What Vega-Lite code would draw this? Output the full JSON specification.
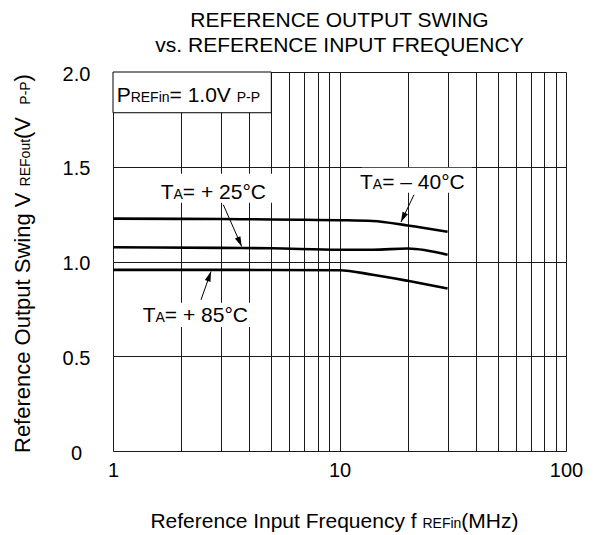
{
  "$schema": "https://vega.github.io/schema/vega-lite/v6.json",
  "width": 453,
  "height": 379,
  "autosize": {"type": "none"},
  "padding": {"left": 113, "top": 72, "right": 29, "bottom": 84},
  "background": "white",
  "config": {
    "font": "Liberation Sans",
    "view": {"stroke": null},
    "text": {"font": "Liberation Sans", "color": "black"}
  },
  "title": {
    "text": ["REFERENCE OUTPUT SWING", "vs. REFERENCE INPUT FREQUENCY"],
    "font": "Liberation Sans",
    "fontSize": 21,
    "fontWeight": "normal",
    "color": "black",
    "anchor": "middle",
    "frame": "group",
    "lineHeight": 25,
    "offset": 8
  },
  "datasets": {
    "curves": [
      {"series": "-40", "f": 1, "v": 1.226},
      {"series": "-40", "f": 2, "v": 1.225},
      {"series": "-40", "f": 3, "v": 1.224},
      {"series": "-40", "f": 5, "v": 1.222},
      {"series": "-40", "f": 7, "v": 1.22},
      {"series": "-40", "f": 10, "v": 1.218},
      {"series": "-40", "f": 14, "v": 1.214},
      {"series": "-40", "f": 20, "v": 1.19},
      {"series": "-40", "f": 30, "v": 1.157},
      {"series": "25", "f": 1, "v": 1.075},
      {"series": "25", "f": 3, "v": 1.072},
      {"series": "25", "f": 5, "v": 1.07},
      {"series": "25", "f": 10, "v": 1.062},
      {"series": "25", "f": 14, "v": 1.062},
      {"series": "25", "f": 20, "v": 1.069},
      {"series": "25", "f": 30, "v": 1.036},
      {"series": "85", "f": 1, "v": 0.956},
      {"series": "85", "f": 3, "v": 0.956},
      {"series": "85", "f": 5, "v": 0.955},
      {"series": "85", "f": 10, "v": 0.954},
      {"series": "85", "f": 14, "v": 0.93},
      {"series": "85", "f": 20, "v": 0.898},
      {"series": "85", "f": 30, "v": 0.858}
    ],
    "boxes": [
      {"f": 1.58, "f2": 5.09, "v": 1.31, "v2": 1.463},
      {"f": 12.57, "f2": 38.5, "v": 1.363, "v2": 1.495},
      {"f": 1.329, "f2": 4.236, "v": 0.655, "v2": 0.782}
    ],
    "arrows": [
      {"id": "a25", "f": 3.069, "v": 1.2995, "f2": 3.7, "v2": 1.0792},
      {"id": "a40", "f": 21.33, "v": 1.3524, "f2": 18.68, "v2": 1.2081},
      {"id": "a85", "f": 2.446, "v": 0.7977, "f2": 2.708, "v2": 0.9472}
    ],
    "texts": [
      {"grp": "ta", "f": 1.624, "v": 1.3296, "a": "T", "b": "A", "c": " = + 25°C"},
      {"grp": "ta", "f": 12.32, "v": 1.3825, "a": "T", "b": "A", "c": " = – 40°C"},
      {"grp": "ta", "f": 1.352, "v": 0.683, "a": "T", "b": "A", "c": " = + 85°C"},
      {"grp": "leg", "f": 1.038, "v": 1.8437, "a": "P", "b": "REFin", "c": " = 1.0V", "d": "P-P"},
      {"grp": "xt", "f": 1.463, "v": -0.4068, "a": "Reference Input Frequency  f", "b": "REFin", "c": "  (MHz)"},
      {"grp": "yt", "f": 0.4302, "v": -0.0106, "a": "Reference Output Swing  V", "b": "REFout", "c": "  (V", "d": "P-P", "e": ")"}
    ]
  },
  "encoding": {
    "x": {
      "field": "f",
      "type": "quantitative",
      "scale": {"type": "log", "domain": [1, 100], "nice": false},
      "axis": {
        "values": [1, 2, 3, 4, 5, 6, 7, 8, 9, 10, 20, 30, 40, 50, 60, 70, 80, 90, 100],
        "labelExpr": "(datum.value == 1 || datum.value == 10 || datum.value == 100) ? format(datum.value, 'd') : ''",
        "grid": true,
        "gridColor": "#1a1a1a",
        "gridWidth": 1,
        "ticks": false,
        "tickSize": 0,
        "domain": false,
        "labelFont": "Liberation Sans",
        "labelFontSize": 20,
        "labelColor": "black",
        "labelPadding": 9,
        "labelFlush": false,
        "labelBound": false,
        "labelOverlap": false,
        "title": null
      }
    },
    "y": {
      "field": "v",
      "type": "quantitative",
      "scale": {"domain": [0, 2], "nice": false, "zero": false},
      "axis": {
        "values": [0, 0.5, 1, 1.5, 2],
        "labelExpr": "datum.value == 0 ? '0' : format(datum.value, '.1f')",
        "grid": true,
        "gridColor": "#1a1a1a",
        "gridWidth": 1,
        "ticks": false,
        "tickSize": 0,
        "domain": false,
        "labelFont": "Liberation Sans",
        "labelFontSize": 20,
        "labelColor": "black",
        "labelAlign": "center",
        "labelBaseline": "middle",
        "labelPadding": 37,
        "labelOffset": 2,
        "labelOverlap": false,
        "title": null
      }
    }
  },
  "layer": [
    {
      "data": {"name": "curves"},
      "mark": {"type": "line", "color": "black", "strokeWidth": 2.6, "interpolate": "monotone"},
      "encoding": {"detail": {"field": "series"}}
    },
    {
      "data": {"name": "boxes"},
      "mark": {"type": "rect", "fill": "white", "strokeWidth": 0},
      "encoding": {
        "x2": {"field": "f2"},
        "y2": {"field": "v2"}
      }
    },
    {
      "data": {"values": [{"f": 1, "f2": 5, "v": 1.785, "v2": 2}]},
      "mark": {"type": "rect", "fill": "white", "stroke": "black", "strokeWidth": 1},
      "encoding": {
        "x2": {"field": "f2"},
        "y2": {"field": "v2"}
      }
    },
    {
      "data": {"name": "arrows"},
      "mark": {"type": "rule", "color": "black", "strokeWidth": 1},
      "encoding": {
        "x2": {"field": "f2"},
        "y2": {"field": "v2"}
      }
    },
    {
      "data": {"name": "arrows"},
      "transform": [{"filter": "datum.id == 'a25'"}],
      "mark": {"type": "point", "shape": "M0,0L0.6,2L-0.6,2Z", "filled": true, "color": "black", "opacity": 1, "size": 100, "angle": 156},
      "encoding": {
        "x": {"field": "f2", "type": "quantitative", "axis": {"title": null}},
        "y": {"field": "v2", "type": "quantitative", "axis": {"title": null}}
      }
    },
    {
      "data": {"name": "arrows"},
      "transform": [{"filter": "datum.id == 'a40'"}],
      "mark": {"type": "point", "shape": "M0,0L0.6,2L-0.6,2Z", "filled": true, "color": "black", "opacity": 1, "size": 100, "angle": 205.5},
      "encoding": {
        "x": {"field": "f2", "type": "quantitative", "axis": {"title": null}},
        "y": {"field": "v2", "type": "quantitative", "axis": {"title": null}}
      }
    },
    {
      "data": {"name": "arrows"},
      "transform": [{"filter": "datum.id == 'a85'"}],
      "mark": {"type": "point", "shape": "M0,0L0.6,2L-0.6,2Z", "filled": true, "color": "black", "opacity": 1, "size": 100, "angle": 19.5},
      "encoding": {
        "x": {"field": "f2", "type": "quantitative", "axis": {"title": null}},
        "y": {"field": "v2", "type": "quantitative", "axis": {"title": null}}
      }
    },
    {
      "data": {"name": "texts"},
      "transform": [{"filter": "datum.grp == 'ta'"}],
      "mark": {"type": "text", "align": "left", "baseline": "alphabetic", "fontSize": 21, "dx": 0},
      "encoding": {"text": {"field": "a"}}
    },
    {
      "data": {"name": "texts"},
      "transform": [{"filter": "datum.grp == 'ta'"}],
      "mark": {"type": "text", "align": "left", "baseline": "alphabetic", "fontSize": 14, "dx": 12.83},
      "encoding": {"text": {"field": "b"}}
    },
    {
      "data": {"name": "texts"},
      "transform": [{"filter": "datum.grp == 'ta'"}],
      "mark": {"type": "text", "align": "left", "baseline": "alphabetic", "fontSize": 21, "dx": 22.17},
      "encoding": {"text": {"field": "c"}}
    },
    {
      "data": {"name": "texts"},
      "transform": [{"filter": "datum.grp == 'leg'"}],
      "mark": {"type": "text", "align": "left", "baseline": "alphabetic", "fontSize": 21, "dx": 0},
      "encoding": {"text": {"field": "a"}}
    },
    {
      "data": {"name": "texts"},
      "transform": [{"filter": "datum.grp == 'leg'"}],
      "mark": {"type": "text", "align": "left", "baseline": "alphabetic", "fontSize": 14, "dx": 14.0},
      "encoding": {"text": {"field": "b"}}
    },
    {
      "data": {"name": "texts"},
      "transform": [{"filter": "datum.grp == 'leg'"}],
      "mark": {"type": "text", "align": "left", "baseline": "alphabetic", "fontSize": 21, "dx": 52.9},
      "encoding": {"text": {"field": "c"}}
    },
    {
      "data": {"name": "texts"},
      "transform": [{"filter": "datum.grp == 'leg'"}],
      "mark": {"type": "text", "align": "left", "baseline": "alphabetic", "fontSize": 14, "dx": 120.0},
      "encoding": {"text": {"field": "d"}}
    },
    {
      "data": {"name": "texts"},
      "transform": [{"filter": "datum.grp == 'xt'"}],
      "mark": {"type": "text", "align": "left", "baseline": "alphabetic", "fontSize": 21, "dx": 0},
      "encoding": {"text": {"field": "a"}}
    },
    {
      "data": {"name": "texts"},
      "transform": [{"filter": "datum.grp == 'xt'"}],
      "mark": {"type": "text", "align": "left", "baseline": "alphabetic", "fontSize": 14, "dx": 272.0},
      "encoding": {"text": {"field": "b"}}
    },
    {
      "data": {"name": "texts"},
      "transform": [{"filter": "datum.grp == 'xt'"}],
      "mark": {"type": "text", "align": "left", "baseline": "alphabetic", "fontSize": 21, "dx": 310.9},
      "encoding": {"text": {"field": "c"}}
    },
    {
      "data": {"name": "texts"},
      "transform": [{"filter": "datum.grp == 'yt'"}],
      "mark": {"type": "text", "align": "left", "baseline": "alphabetic", "fontSize": 22, "angle": 270, "dx": 0},
      "encoding": {"text": {"field": "a"}}
    },
    {
      "data": {"name": "texts"},
      "transform": [{"filter": "datum.grp == 'yt'"}],
      "mark": {"type": "text", "align": "left", "baseline": "alphabetic", "fontSize": 14, "angle": 270, "dx": 266.6},
      "encoding": {"text": {"field": "b"}}
    },
    {
      "data": {"name": "texts"},
      "transform": [{"filter": "datum.grp == 'yt'"}],
      "mark": {"type": "text", "align": "left", "baseline": "alphabetic", "fontSize": 22, "angle": 270, "dx": 314.0},
      "encoding": {"text": {"field": "c"}}
    },
    {
      "data": {"name": "texts"},
      "transform": [{"filter": "datum.grp == 'yt'"}],
      "mark": {"type": "text", "align": "left", "baseline": "alphabetic", "fontSize": 14, "angle": 270, "dx": 348.3},
      "encoding": {"text": {"field": "d"}}
    },
    {
      "data": {"name": "texts"},
      "transform": [{"filter": "datum.grp == 'yt'"}],
      "mark": {"type": "text", "align": "left", "baseline": "alphabetic", "fontSize": 22, "angle": 270, "dx": 371.6},
      "encoding": {"text": {"field": "e"}}
    },
    {
      "data": {"values": [{}]},
      "mark": {"type": "rect", "fillOpacity": 0, "stroke": "black", "strokeWidth": 2.6},
      "encoding": {
        "x": {"datum": 1},
        "x2": {"datum": 100},
        "y": {"datum": 0},
        "y2": {"datum": 2}
      }
    }
  ]
}
